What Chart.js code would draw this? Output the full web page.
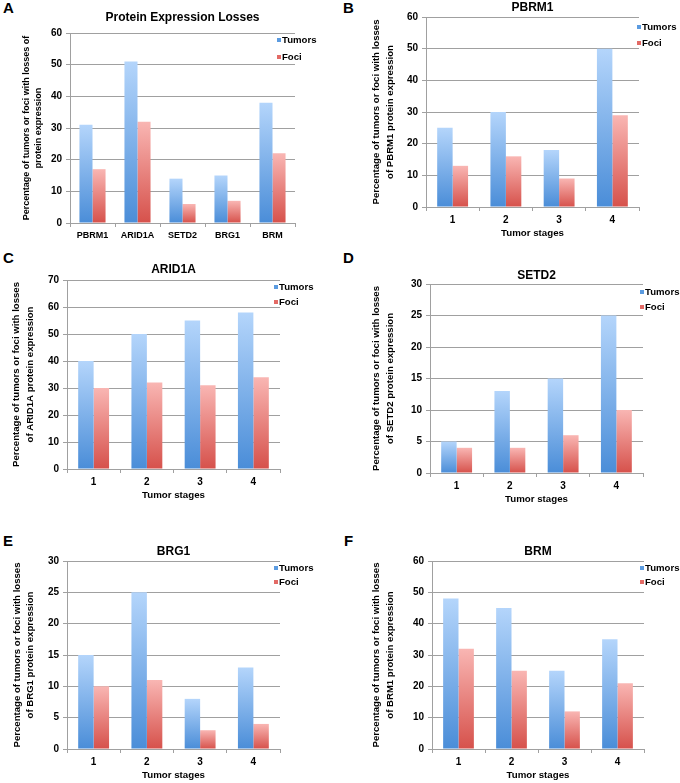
<!DOCTYPE html>
<html>
<head>
<meta charset="utf-8">
<script src="https://cdn.jsdelivr.net/npm/chart.js@4"></script>
<style>
  body { margin: 0; background: #fff; }
  #page { position: relative; width: 680px; height: 783px; overflow: hidden; font-family: "Liberation Sans", Arial, sans-serif; }
  .panel { position: absolute; }
  .tag { position: absolute; font-weight: bold; font-size: 15px; line-height: 15px; color: #000; }
</style>
</head>
<body>
<div id="page">
  <div class="tag" style="left:3px;top:0px">A</div>
  <div class="tag" style="left:343px;top:0px">B</div>
  <div class="tag" style="left:3px;top:250px">C</div>
  <div class="tag" style="left:343px;top:250px">D</div>
  <div class="tag" style="left:3px;top:533px">E</div>
  <div class="tag" style="left:344px;top:533px">F</div>

  <div class="panel" style="left:0;top:0;width:340px;height:258px"><canvas id="chartA"></canvas></div>
  <div class="panel" style="left:340px;top:0;width:340px;height:258px"><canvas id="chartB"></canvas></div>
  <div class="panel" style="left:0;top:260px;width:340px;height:260px"><canvas id="chartC"></canvas></div>
  <div class="panel" style="left:340px;top:260px;width:340px;height:260px"><canvas id="chartD"></canvas></div>
  <div class="panel" style="left:0;top:520px;width:340px;height:263px"><canvas id="chartE"></canvas></div>
  <div class="panel" style="left:340px;top:520px;width:340px;height:263px"><canvas id="chartF"></canvas></div>
</div>
<script>
// data
const genes = ['PBRM1', 'ARID1A', 'SETD2', 'BRG1', 'BRM'];
const stages = ['1', '2', '3', '4'];

const lossTumors = [31, 51, 14, 15, 38];
const lossFoci = [17, 32, 6, 7, 22];

const pbrm1Tumors = [25, 30, 18, 50];
const pbrm1Foci = [13, 16, 9, 29];

const arid1aTumors = [40, 50, 55, 58];
const arid1aFoci = [30, 32, 31, 34];

const setd2Tumors = [5, 13, 15, 25];
const setd2Foci = [4, 4, 6, 10];

const brg1Tumors = [15, 25, 8, 13];
const brg1Foci = [10, 11, 3, 4];

const brmTumors = [48, 45, 25, 35];
const brmFoci = [32, 25, 12, 21];

const FONT = '"Liberation Sans", Arial, sans-serif';
const GRID = '#a0a0a0';
const BLUE = ['#b4d5fb', '#4a8dd8'];
const RED = ['#f9b6b3', '#d6514b'];

Chart.defaults.font.family = FONT;
Chart.defaults.color = '#000';

// vertical gradient per bar, light at the top and dark at the base
function barFill(colors) {
  return function (c) {
    const chart = c.chart;
    if (!chart.chartArea || c.type !== 'data') return colors[1];
    const y = chart.scales.y;
    const top = y.getPixelForValue(c.raw);
    const base = y.getPixelForValue(0);
    const g = chart.ctx.createLinearGradient(0, top, 0, base);
    g.addColorStop(0, colors[0]);
    g.addColorStop(1, colors[1]);
    return g;
  };
}

// small square legend sitting in the top right corner
const cornerLegend = {
  id: 'cornerLegend',
  afterDraw(chart, args, opts) {
    const ctx = chart.ctx;
    const a = chart.chartArea;
    ctx.save();
    ctx.font = 'bold 9.6px ' + FONT;
    ctx.textBaseline = 'middle';
    ctx.textAlign = 'left';
    chart.data.datasets.forEach((ds, i) => {
      const x = a.right + opts.dx;
      const y = a.top + opts.rows[i];
      ctx.fillStyle = ds.legendColor;
      ctx.fillRect(x, y - 2, 4, 4);
      ctx.fillStyle = '#000';
      ctx.fillText(ds.label, x + 5, y);
    });
    ctx.restore();
  }
};

function makeChart(id, labels, tumors, foci, p) {
  const W = 340;
  const H = p.H;
  const xh = p.xTitle ? 32 : 20;
  new Chart(document.getElementById(id), {
    type: 'bar',
    data: {
      labels: labels,
      datasets: [
        { label: 'Tumors', data: tumors, backgroundColor: barFill(BLUE), legendColor: '#5b9be0' },
        { label: 'Foci', data: foci, backgroundColor: barFill(RED), legendColor: '#e36a65' }
      ]
    },
    plugins: [cornerLegend],
    options: {
      responsive: true,
      maintainAspectRatio: false,
      animation: false,
      datasets: { bar: { categoryPercentage: 0.58, barPercentage: 1 } },
      layout: { padding: { left: 0, top: 0, right: W - p.right, bottom: H - p.bottom - xh } },
      plugins: {
        legend: { display: false },
        tooltip: { enabled: false },
        title: {
          display: true,
          text: p.title,
          fullSize: false,
          font: { size: 12, weight: 'bold', lineHeight: 1.2 },
          color: '#000',
          padding: { top: p.tc - 7.2, bottom: p.top - p.tc - 7.2 }
        },
        cornerLegend: { dx: p.ldx, rows: p.lrows }
      },
      scales: {
        x: {
          afterFit: s => { s.height = xh; },
          grid: { drawOnChartArea: false, drawTicks: true, tickLength: 4, color: GRID, offset: true },
          border: { color: GRID },
          ticks: { font: { size: p.xf || 10, weight: 'bold' }, color: '#000', padding: 3 },
          title: {
            display: !!p.xTitle,
            text: p.xTitle || '',
            font: { size: 9.7, weight: 'bold', lineHeight: 1.2 },
            color: '#000',
            padding: { top: 0, bottom: 0 }
          }
        },
        y: {
          min: 0,
          max: p.max,
          afterFit: s => { s.width = p.left; },
          grid: { color: GRID, tickLength: 4 },
          border: { color: GRID },
          ticks: { stepSize: p.step, font: { size: 10, weight: 'bold' }, color: '#000', padding: 4 },
          title: {
            display: true,
            text: p.yTitle,
            font: { size: p.yf, weight: 'bold', lineHeight: 1.4 },
            color: '#000',
            padding: { top: p.yt, bottom: 0 }
          }
        }
      }
    }
  });
}

makeChart('chartA', genes, lossTumors, lossFoci, {
  H: 258, left: 70, right: 295, top: 33, bottom: 223, tc: 18, max: 60, step: 10,
  title: 'Protein Expression Losses', yf: 9, yt: 20, xf: 9,
  yTitle: ['Percentage of tumors or foci with losses of', 'protein expression'],
  ldx: -18, lrows: [7, 24]
});
makeChart('chartB', stages, pbrm1Tumors, pbrm1Foci, {
  H: 258, left: 86, right: 299, top: 17, bottom: 207, tc: 8, max: 60, step: 10,
  title: 'PBRM1', yf: 9.6, yt: 30, xTitle: 'Tumor stages',
  yTitle: ['Percentage of tumors or foci with losses', 'of PBRM1 protein expression'],
  ldx: -2, lrows: [10, 26]
});
makeChart('chartC', stages, arid1aTumors, arid1aFoci, {
  H: 260, left: 67, right: 280, top: 20, bottom: 209, tc: 10, max: 70, step: 10,
  title: 'ARID1A', yf: 9.6, yt: 10, xTitle: 'Tumor stages',
  yTitle: ['Percentage of tumors or foci with losses', 'of ARID1A protein expression'],
  ldx: -6, lrows: [7, 22]
});
makeChart('chartD', stages, setd2Tumors, setd2Foci, {
  H: 260, left: 90, right: 303, top: 24, bottom: 213, tc: 16, max: 30, step: 5,
  title: 'SETD2', yf: 9.6, yt: 30, xTitle: 'Tumor stages',
  yTitle: ['Percentage of tumors or foci with losses', 'of SETD2 protein expression'],
  ldx: -3, lrows: [8, 23]
});
makeChart('chartE', stages, brg1Tumors, brg1Foci, {
  H: 263, left: 67, right: 280, top: 41, bottom: 229, tc: 32, max: 30, step: 5,
  title: 'BRG1', yf: 9.6, yt: 10.5, xTitle: 'Tumor stages',
  yTitle: ['Percentage of tumors or foci with losses', 'of BRG1 protein expression'],
  ldx: -6, lrows: [7, 21]
});
makeChart('chartF', stages, brmTumors, brmFoci, {
  H: 263, left: 92, right: 304, top: 41, bottom: 229, tc: 32, max: 60, step: 10,
  title: 'BRM', yf: 9.6, yt: 30, xTitle: 'Tumor stages',
  yTitle: ['Percentage of tumors or foci with losses', 'of BRM1 protein expression'],
  ldx: -4, lrows: [7, 21]
});
</script>
</body>
</html>
